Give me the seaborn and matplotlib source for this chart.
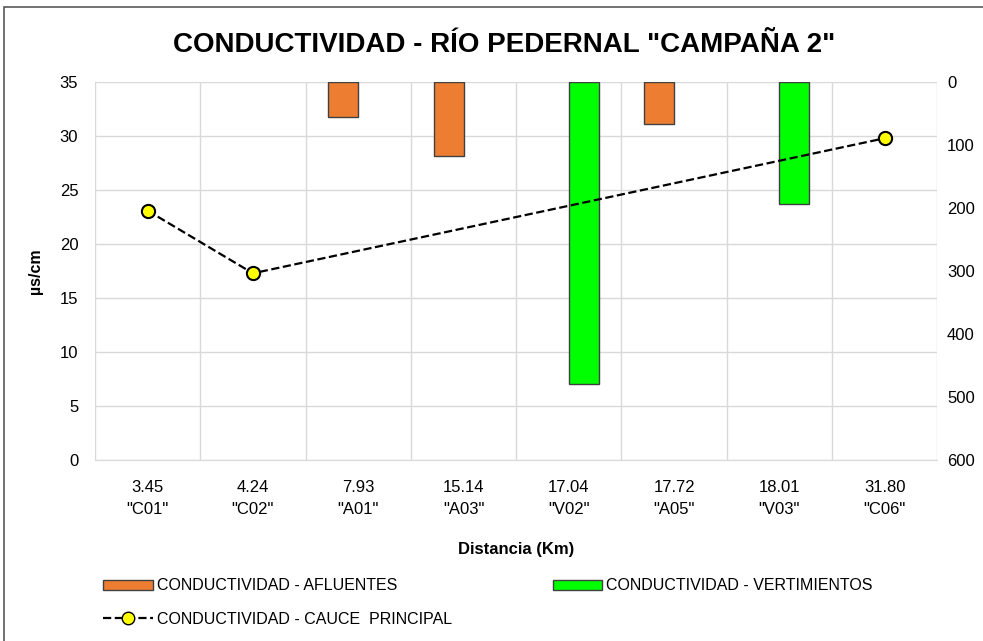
import numpy as np
import pandas as pd
import seaborn as sns
import matplotlib.pyplot as plt
from matplotlib.patches import Patch, Rectangle
from matplotlib.lines import Line2D

# data
distancias = ["3.45", "4.24", "7.93", "15.14", "17.04", "17.72", "18.01", "31.80"]
puntos = ["C01", "C02", "A01", "A03", "V02", "A05", "V03", "C06"]
cauce = [23.1, 17.3, np.nan, np.nan, np.nan, np.nan, np.nan, 29.8]
afluentes = {"A01": 55, "A03": 118, "A05": 66}
vertimientos = {"V02": 479, "V03": 194}

sns.set_style("white")
plt.rcParams['font.family'] = ['Liberation Sans', 'DejaVu Sans']
plt.rcParams['text.color'] = 'black'
plt.rcParams['axes.labelcolor'] = 'black'
plt.rcParams['xtick.color'] = 'black'
plt.rcParams['ytick.color'] = 'black'

bars = pd.DataFrame(
    [(k, v, "AFL") for k, v in afluentes.items()] +
    [(k, v, "VER") for k, v in vertimientos.items()],
    columns=["punto", "valor", "tipo"])

line = pd.DataFrame({"pos": np.arange(len(puntos)), "valor": cauce}).dropna()

fig = plt.figure(figsize=(9.83, 6.41), dpi=100)
ax = fig.add_axes([0.0966, 0.282, 0.857, 0.590])
axb = ax.twinx()
axl = ax.twinx()

# bars hanging from the top on the inverted right axis
sns.barplot(data=bars, x="punto", y="valor", hue="tipo", order=puntos,
            hue_order=["AFL", "VER"], palette={"AFL": "#ED7D31", "VER": "#00FF00"},
            width=0.57, dodge=True, edgecolor="#404040", linewidth=1, saturation=1,
            legend=False, ax=axb)
axb.set_ylim(600, 0)
axb.set_yticks(range(0, 601, 100))
axb.set_ylabel("")
axb.set_xlabel("")
axb.tick_params(axis='y', labelsize=12, length=0, pad=7)

# main channel line on top
sns.lineplot(data=line, x="pos", y="valor", ax=axl, color="black", linestyle="--",
             linewidth=1.6, marker="o", markersize=9.5, markerfacecolor="#FFFF00",
             markeredgecolor="black", markeredgewidth=1.5)
axl.set_ylim(0, 35)
axl.set_yticks([])
axl.set_ylabel("")

ax.set_ylim(0, 35)
ax.set_yticks(range(0, 36, 5))
ax.set_xlim(-0.5, len(puntos) - 0.5)
axb.set_xlim(-0.5, len(puntos) - 0.5)
ax.set_xticks(range(len(puntos)))
ax.set_xticklabels([f'{d}\n"{p}"' for d, p in zip(distancias, puntos)], linespacing=1.6)
ax.set_xticks(np.arange(-0.5, len(puntos)), minor=True)
ax.tick_params(axis='both', which='both', length=0, labelsize=12)
ax.tick_params(axis='x', pad=14)
ax.tick_params(axis='y', pad=12)
ax.grid(True, axis='y', color='#d9d9d9', linewidth=1)
ax.grid(True, axis='x', which='minor', color='#d9d9d9', linewidth=1)
ax.set_ylabel("µs/cm", fontsize=11.5, fontweight='bold', labelpad=12)
ax.set_xlabel("Distancia (Km)", fontsize=12, fontweight='bold', labelpad=18)

ax.set_zorder(1)
axb.set_zorder(2)
axl.set_zorder(3)
for a in (ax, axb, axl):
    for s in a.spines.values():
        s.set_visible(False)
ax.spines['bottom'].set_visible(True)
ax.spines['bottom'].set_color('#d9d9d9')
axb.patch.set_visible(False)
axl.patch.set_visible(False)

fig.text(0.5125, 1 - 45 / 641, 'CONDUCTIVIDAD - RÍO PEDERNAL "CAMPAÑA 2"', fontsize=20,
         fontweight='bold', ha='center', va='center')

handles = [
    Patch(facecolor="#ED7D31", edgecolor="#404040", label="CONDUCTIVIDAD - AFLUENTES"),
    Line2D([], [], color="black", linestyle="--", linewidth=1.6, marker="o",
           markersize=9, markerfacecolor="#FFFF00", markeredgecolor="black",
           label="CONDUCTIVIDAD - CAUCE  PRINCIPAL"),
    Patch(facecolor="#00FF00", edgecolor="#404040", label="CONDUCTIVIDAD - VERTIMIENTOS"),
]
fig.legend(handles=handles, ncol=2, loc='upper left', bbox_to_anchor=(0.097, 0.11),
           frameon=False, fontsize=11.5, handlelength=3.1, handleheight=0.6,
           handletextpad=0.25, columnspacing=6.3, labelspacing=1.15, borderpad=0)

fig.add_artist(Rectangle((0.004, -0.1), 1.2, 1.1 - 7 / 641, transform=fig.transFigure,
                         fill=False, edgecolor="#595959", linewidth=1.2))

fig.savefig("out.png", dpi=100)
